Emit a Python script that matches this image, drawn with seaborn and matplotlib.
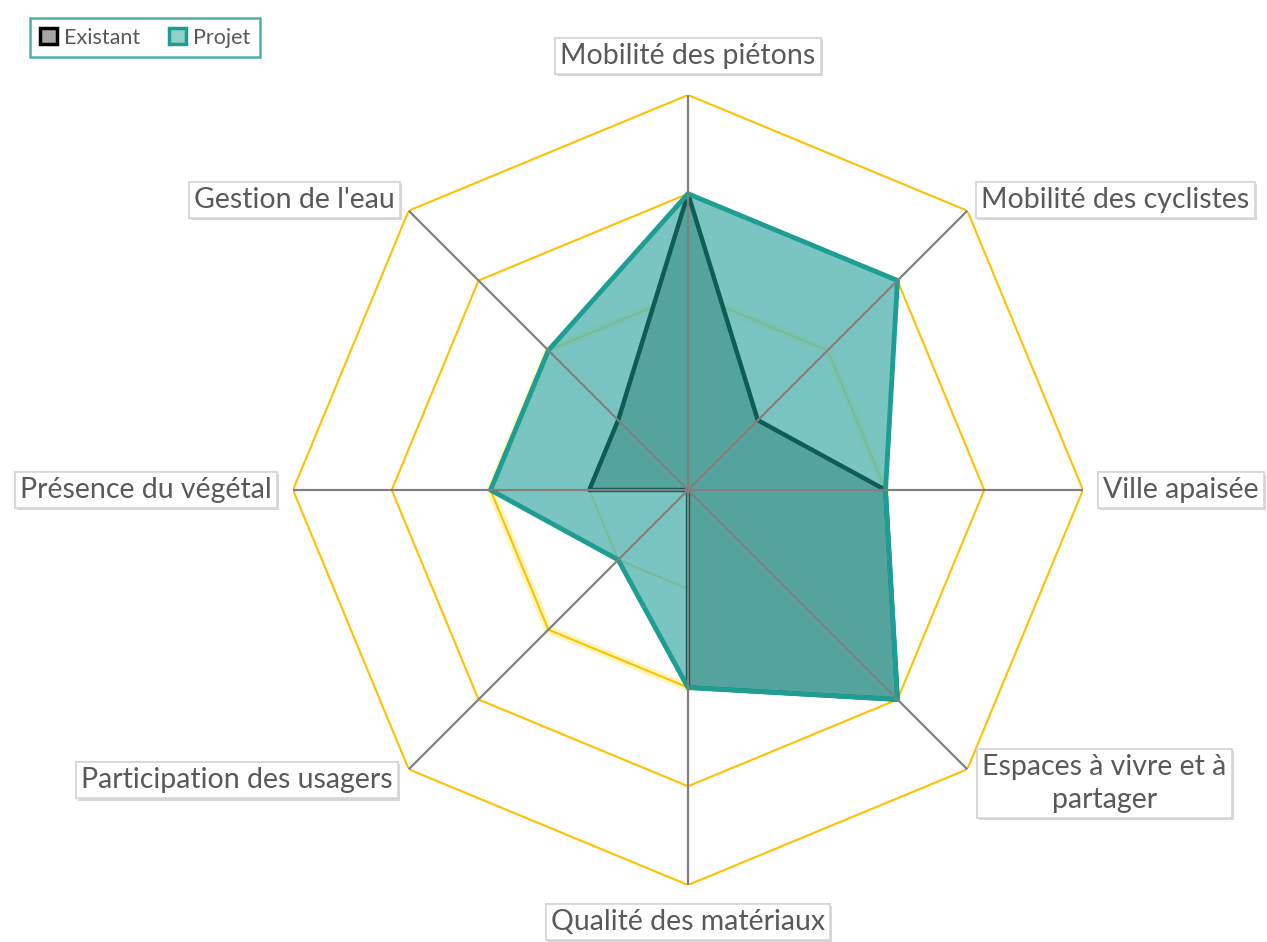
import numpy as np
import matplotlib
matplotlib.use("Agg")
import matplotlib.pyplot as plt
import matplotlib.patheffects as pe
from matplotlib.patches import Patch
import seaborn as sns

# data
categories = ["Mobilité des piétons", "Mobilité des cyclistes", "Ville apaisée",
              "Espaces à vivre et à\npartager", "Qualité des matériaux",
              "Participation des usagers", "Présence du végétal", "Gestion de l'eau"]
existant = [3, 1, 2, 3, 2, 0, 1, 1]
projet = [3, 3, 2, 3, 2, 1, 2, 2]
ring_levels = [1, 2, 3, 4]

sns.set_theme(style="white")
plt.rcParams["font.family"] = ["Lato", "DejaVu Sans"]

TEAL = "#1E9E93"
DARK = "#0E5C56"
GOLD = "#FFC000"
GREY = "#808080"
TXT = "#595959"

n = len(categories)
theta = np.arange(n) * 2 * np.pi / n
theta_c = np.append(theta, 2 * np.pi)

fig = plt.figure(figsize=(12.67, 9.42), dpi=100)
ax = fig.add_axes([293 / 1267, 57 / 942, 790 / 1267, 790 / 942], projection="polar")
ax.set_theta_zero_location("N")
ax.set_theta_direction(-1)
ax.set_ylim(0, 4)
ax.grid(False)
ax.spines["polar"].set_visible(False)
ax.set_xticks([])
ax.set_yticks([])
ax.patch.set_alpha(0)

# octagon rings
for lvl in ring_levels:
    r = np.full(n + 1, lvl)
    if lvl == 2:
        ax.plot(theta_c, r, color="#FFF07A", lw=6, alpha=0.5, zorder=1)
    ax.plot(theta_c, r, color=GOLD, lw=1.5, zorder=2)

# series
proj_c = np.append(projet, projet[0])
exist_c = np.append(existant, existant[0])
ax.fill(theta_c, proj_c, color="#63BBB6", alpha=0.85, lw=0, zorder=3)
ax.fill(theta_c, exist_c, color="#55A39D", alpha=1.0, lw=0, zorder=4)
sns.lineplot(x=theta_c, y=exist_c, sort=False, estimator=None, color=DARK, lw=3.2, ax=ax, zorder=5)
sns.lineplot(x=theta_c, y=proj_c, sort=False, estimator=None, color=TEAL, lw=3.5, ax=ax, zorder=6)

# spokes
for t in theta:
    ax.plot([t, t], [0, 4], color=GREY, lw=1.6, zorder=7)

# labels
offsets = [((0, 39), "center"), ((14, 11), "left"), ((20, 0), "left"),
           ((137, -14), "center"), ((0, -37), "center"), ((-16, -11), "right"),
           ((-21, 0), "right"), ((-14, 11), "right")]
for t, lab, (off, ha) in zip(theta, categories, offsets):
    a = ax.annotate(lab, xy=(t, 4), xytext=off, textcoords="offset pixels",
                    ha=ha, va="center", ma="center", fontsize=20.5, color=TXT,
                    annotation_clip=False, zorder=10, linespacing=1.35,
                    bbox=dict(boxstyle="square,pad=0.18", fc="white", ec="#d6d6d6", lw=1.2))
    a.get_bbox_patch().set_path_effects([pe.withSimplePatchShadow(offset=(1.5, -1.5), shadow_rgbFace="#b0b0b0", alpha=0.5), pe.Normal()])

# legend
handles = [Patch(facecolor="#a6a6a6", edgecolor="black", lw=2.5, label="Existant"),
           Patch(facecolor="#8fd0ca", edgecolor=TEAL, lw=2.5, label="Projet")]
leg = fig.legend(handles=handles, loc="upper left", bbox_to_anchor=(30 / 1267, 1 - 18 / 942),
                 ncol=2, frameon=True, fancybox=False, fontsize=15.5, handlelength=0.8,
                 handleheight=0.8, handletextpad=0.35, columnspacing=1.3, borderpad=0.45,
                 borderaxespad=0, labelcolor=TXT)
leg.get_frame().set_edgecolor(TEAL)
leg.get_frame().set_linewidth(1.8)

fig.savefig("out.png", dpi=100)
